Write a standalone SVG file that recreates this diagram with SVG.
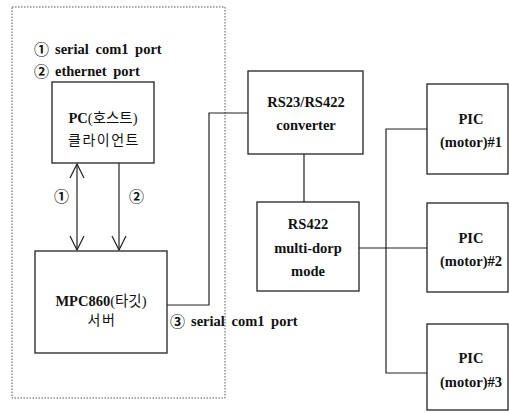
<svg xmlns="http://www.w3.org/2000/svg" width="509" height="413" viewBox="0 0 509 413">
<style>
.box{fill:#fff;stroke:#222;stroke-width:1.3}
.ln{fill:none;stroke:#222;stroke-width:1.2}
text{fill:#111}
.t{font-weight:bold;font-size:14.5px;text-anchor:middle}
.k{font-size:14px;letter-spacing:1.5px;text-anchor:middle}
.l{font-weight:bold;font-size:14.5px;word-spacing:3px}
.c{font-size:15px;font-weight:bold}
</style>
<defs>
<marker id="open" viewBox="0 0 16 16" refX="15" refY="8" markerWidth="16" markerHeight="16" markerUnits="userSpaceOnUse" orient="auto-start-reverse">
<path d="M1,1 L15,8 L1,15" fill="none" stroke="#222" stroke-width="1.2"/>
</marker>
</defs>
<rect x="0" y="0" width="509" height="413" fill="#fff"/>
<rect id="boundary" x="12" y="7" width="213" height="391" fill="none" stroke="#555" stroke-width="1" stroke-dasharray="1.5,1.5"/>
<g font-family="'Liberation Serif', 'Times New Roman', 'Noto Sans CJK KR', serif">
<g id="legend">
<text class="c" x="34" y="55" font-family="'Noto Sans CJK KR', sans-serif">①</text><text class="l" x="55" y="54">serial com1 port</text>
<text class="c" x="34" y="77" font-family="'Noto Sans CJK KR', sans-serif">②</text><text class="l" x="55" y="76">ethernet port</text>
</g>
<g id="connectors">
<line class="ln" x1="77" y1="164" x2="77" y2="250" marker-start="url(#open)" marker-end="url(#open)"/>
<line class="ln" x1="119" y1="163" x2="119" y2="250" marker-end="url(#open)"/>
<polyline class="ln" points="167,305 209,305 209,113 248,113"/>
<line class="ln" x1="304" y1="154" x2="304" y2="202"/>
<line class="ln" x1="359" y1="248" x2="427" y2="248"/>
<polyline class="ln" points="427,129 386,129 386,373 427,373"/>
</g>
<g id="labels">
<text class="c" x="54" y="202" font-family="'Noto Sans CJK KR', sans-serif">①</text>
<text class="c" x="129" y="202" font-family="'Noto Sans CJK KR', sans-serif">②</text>
<text class="c" x="170" y="327" font-family="'Noto Sans CJK KR', sans-serif">③</text><text class="l" x="191" y="326">serial com1 port</text>
</g>
<g id="pc">
<rect class="box" x="52" y="82" width="102" height="81"/>
<text class="t" x="103" y="123">PC<tspan font-weight="normal">(호스트)</tspan></text>
<text class="k" x="104" y="145">클라이언트</text>
</g>
<g id="mpc860">
<rect class="box" x="35" y="251" width="132" height="102"/>
<text class="t" x="101" y="306">MPC860<tspan font-weight="normal">(타깃)</tspan></text>
<text class="k" x="102" y="325">서버</text>
</g>
<g id="converter">
<rect class="box" x="248" y="71" width="115" height="83"/>
<text class="t" x="306" y="107">RS23/RS422</text>
<text class="t" x="306" y="130">converter</text>
</g>
<g id="rs422">
<rect class="box" x="257" y="202" width="102" height="89"/>
<text class="t" x="308" y="229">RS422</text>
<text class="t" x="308" y="253">multi-dorp</text>
<text class="t" x="308" y="276">mode</text>
</g>
<g id="pic1">
<rect class="box" x="427" y="84" width="81" height="90"/>
<text class="t" x="471" y="124">PIC</text>
<text class="t" x="471" y="147">(motor)#1</text>
</g>
<g id="pic2">
<rect class="box" x="427" y="203" width="81" height="89"/>
<text class="t" x="471" y="243">PIC</text>
<text class="t" x="471" y="266">(motor)#2</text>
</g>
<g id="pic3">
<rect class="box" x="427" y="324" width="81" height="86"/>
<text class="t" x="471" y="363">PIC</text>
<text class="t" x="471" y="387">(motor)#3</text>
</g>
</g>
</svg>
